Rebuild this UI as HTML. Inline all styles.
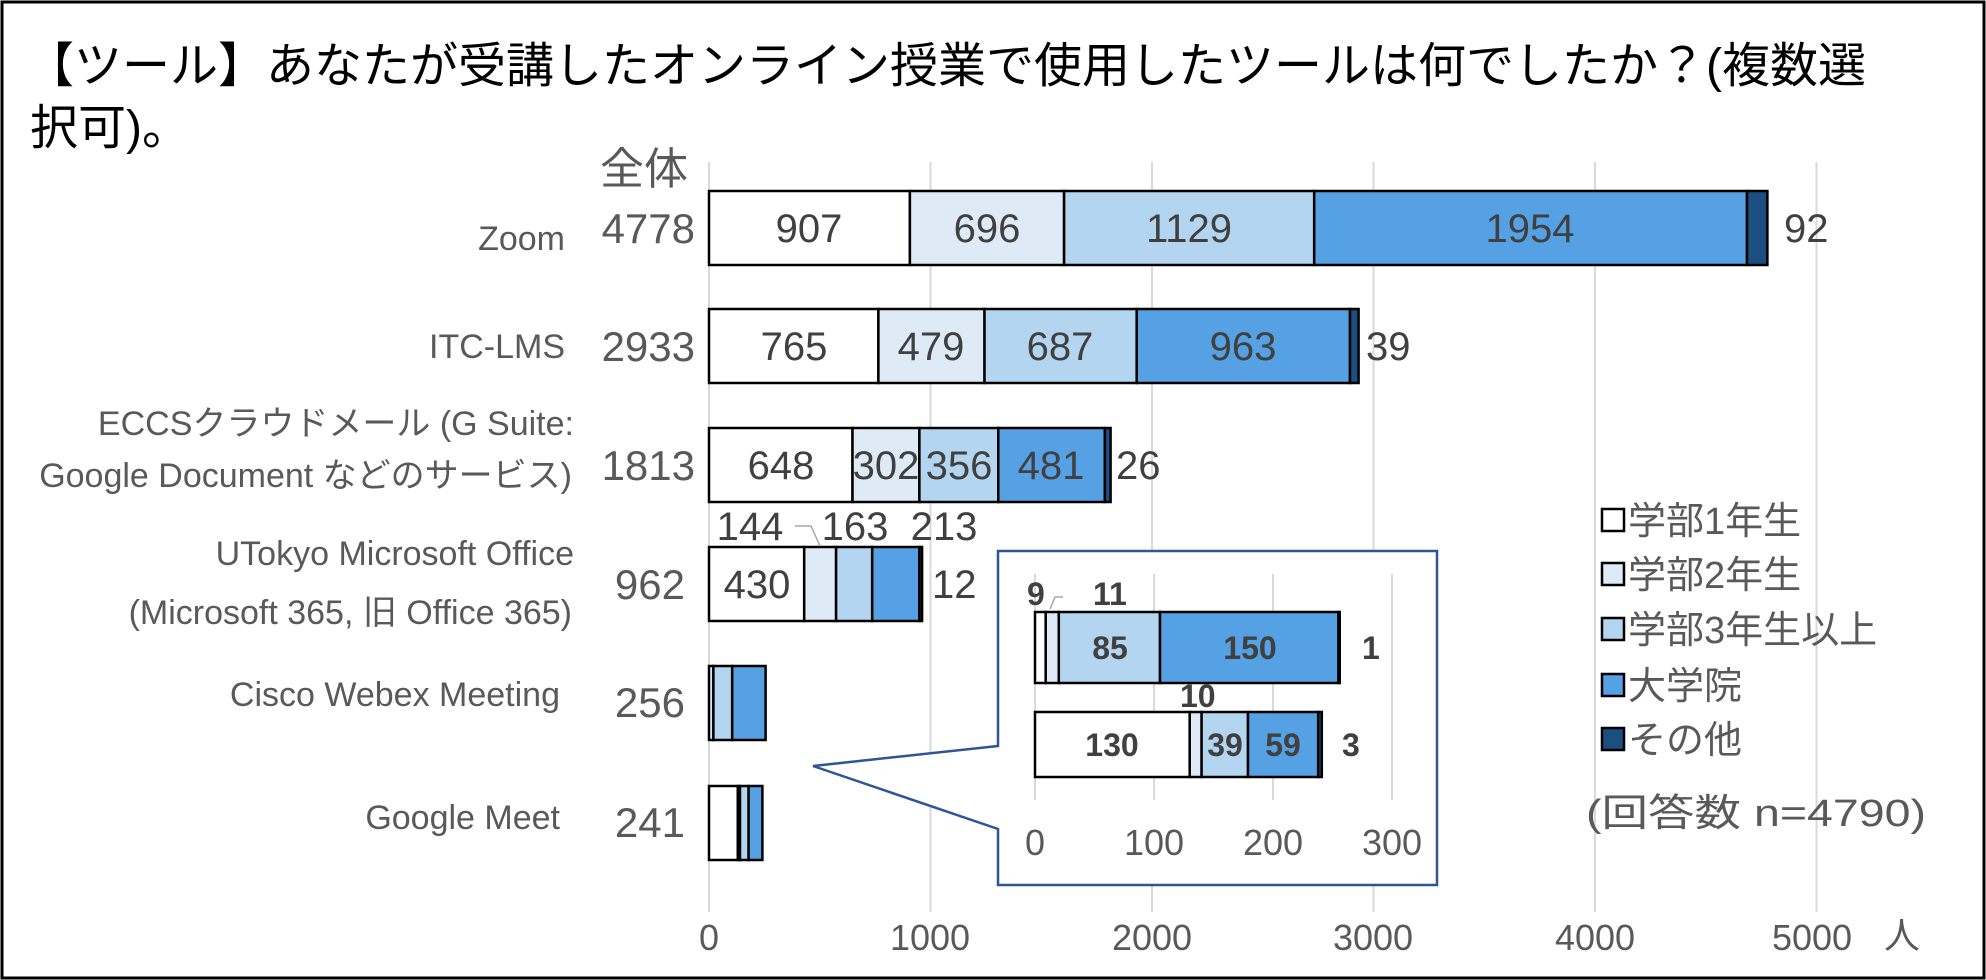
<!DOCTYPE html>
<html><head><meta charset="utf-8"><style>
html,body{margin:0;padding:0;background:#fff;}
svg{display:block;font-family:"Liberation Sans","Noto Sans CJK JP",sans-serif;}
.c{fill:#595959;font-size:34px;text-anchor:end;}
.t{fill:#595959;font-size:42px;text-anchor:end;}
.v{fill:#404040;font-size:40px;text-anchor:middle;}
.o{fill:#404040;font-size:40px;}
.iv{fill:#404040;font-size:32px;font-weight:bold;text-anchor:middle;}
.io{fill:#404040;font-size:32px;font-weight:bold;}
.ax{fill:#595959;font-size:36px;text-anchor:middle;}
.lg{fill:#595959;font-size:38px;}
</style></head><body>
<svg width="1986" height="980" viewBox="0 0 1986 980" xmlns="http://www.w3.org/2000/svg">
<rect x="2" y="2" width="1982" height="976" fill="#fff" stroke="#000" stroke-width="3"/>
<text x="26" y="82" font-size="48" fill="#000">【ツール】あなたが受講したオンライン授業で使用したツールは何でしたか？(複数選</text>
<text x="30" y="144" font-size="48" fill="#000">択可)。</text>
<text x="688" y="184" font-size="44" fill="#595959" text-anchor="end">全体</text>
<g stroke="#d9d9d9" stroke-width="2">
<line x1="709" y1="162" x2="709" y2="912"/><line x1="930.5" y1="162" x2="930.5" y2="912"/>
<line x1="1152" y1="162" x2="1152" y2="912"/><line x1="1373.5" y1="162" x2="1373.5" y2="912"/>
<line x1="1595" y1="162" x2="1595" y2="912"/><line x1="1816.5" y1="162" x2="1816.5" y2="912"/>
</g>
<g stroke="#000" stroke-width="2.5">
<rect x="709" y="191" width="200.9" height="74" fill="#fff"/>
<rect x="909.9" y="191" width="154.2" height="74" fill="#deebf7"/>
<rect x="1064.1" y="191" width="250.1" height="74" fill="#b4d5f0"/>
<rect x="1314.2" y="191" width="432.8" height="74" fill="#55a1e3"/>
<rect x="1747" y="191" width="20.4" height="74" fill="#1b4f82"/>
<rect x="709" y="309" width="169.4" height="74" fill="#fff"/>
<rect x="878.4" y="309" width="106.1" height="74" fill="#deebf7"/>
<rect x="984.5" y="309" width="152.2" height="74" fill="#b4d5f0"/>
<rect x="1136.7" y="309" width="213.3" height="74" fill="#55a1e3"/>
<rect x="1350" y="309" width="8.6" height="74" fill="#1b4f82"/>
<rect x="709" y="428" width="143.5" height="74" fill="#fff"/>
<rect x="852.5" y="428" width="66.9" height="74" fill="#deebf7"/>
<rect x="919.4" y="428" width="78.9" height="74" fill="#b4d5f0"/>
<rect x="998.3" y="428" width="106.5" height="74" fill="#55a1e3"/>
<rect x="1104.8" y="428" width="5.8" height="74" fill="#1b4f82"/>
<rect x="709" y="547" width="95.2" height="74" fill="#fff"/>
<rect x="804.2" y="547" width="31.9" height="74" fill="#deebf7"/>
<rect x="836.1" y="547" width="36.1" height="74" fill="#b4d5f0"/>
<rect x="872.2" y="547" width="47.2" height="74" fill="#55a1e3"/>
<rect x="919.4" y="547" width="2.7" height="74" fill="#1b4f82"/>
<rect x="709" y="666" width="4.4" height="74" fill="#deebf7"/>
<rect x="713.4" y="666" width="18.8" height="74" fill="#b4d5f0"/>
<rect x="732.2" y="666" width="33.4" height="74" fill="#55a1e3"/>
<rect x="709" y="786" width="28.8" height="74" fill="#fff"/>
<rect x="737.8" y="786" width="2.2" height="74" fill="#deebf7"/>
<rect x="740" y="786" width="8.6" height="74" fill="#b4d5f0"/>
<rect x="748.6" y="786" width="13.8" height="74" fill="#55a1e3"/>
</g>
<text class="c" x="565" y="250">Zoom</text>
<text class="c" x="565" y="358">ITC-LMS</text>
<text class="c" x="574" y="435">ECCSクラウドメール (G Suite:</text>
<text class="c" x="572" y="487">Google Document などのサービス)</text>
<text class="c" x="574" y="565">UTokyo Microsoft Office</text>
<text class="c" x="572" y="624">(Microsoft 365, 旧 Office 365)</text>
<text class="c" x="560" y="706">Cisco Webex Meeting</text>
<text class="c" x="560" y="829">Google Meet</text>
<text class="t" x="695" y="243">4778</text>
<text class="t" x="695" y="361">2933</text>
<text class="t" x="695" y="480">1813</text>
<text class="t" x="685" y="599">962</text>
<text class="t" x="685" y="717">256</text>
<text class="t" x="685" y="837">241</text>
<text class="v" x="809" y="242">907</text><text class="v" x="987" y="242">696</text>
<text class="v" x="1189" y="242">1129</text><text class="v" x="1530" y="242">1954</text>
<text class="o" x="1784" y="242">92</text>
<text class="v" x="794" y="360">765</text><text class="v" x="931" y="360">479</text>
<text class="v" x="1060" y="360">687</text><text class="v" x="1243" y="360">963</text>
<text class="o" x="1366" y="360">39</text>
<text class="v" x="781" y="479">648</text><text class="v" x="886" y="479" font-size="36">302</text>
<text class="v" x="959" y="479" font-size="36">356</text><text class="v" x="1051" y="479">481</text>
<text class="o" x="1116" y="479">26</text>
<text class="v" x="757" y="598">430</text>
<text class="v" x="750" y="540">144</text><text class="v" x="855" y="540">163</text><text class="v" x="944" y="540">213</text>
<polyline points="795,526 811,526 820,546" fill="none" stroke="#a6a6a6" stroke-width="1.5"/>
<text class="o" x="932" y="598">12</text>
<text class="ax" x="709" y="950">0</text><text class="ax" x="930" y="950">1000</text>
<text class="ax" x="1152" y="950">2000</text><text class="ax" x="1373" y="950">3000</text>
<text class="ax" x="1595" y="950">4000</text><text class="ax" x="1812" y="950">5000</text>
<text x="1902" y="948" font-size="36" fill="#595959" text-anchor="middle">人</text>
<polygon points="998,551 1437,551 1437,885 998,885 998,829 813,766 998,746" fill="#fff" stroke="#2f5597" stroke-width="2.5"/>
<g stroke="#d9d9d9" stroke-width="2">
<line x1="1035" y1="574" x2="1035" y2="800"/><line x1="1154" y1="574" x2="1154" y2="800"/>
<line x1="1273" y1="574" x2="1273" y2="800"/><line x1="1392" y1="574" x2="1392" y2="800"/>
</g>
<g stroke="#000" stroke-width="2.5">
<rect x="1035" y="612" width="10.7" height="71" fill="#fff"/>
<rect x="1045.7" y="612" width="13.1" height="71" fill="#deebf7"/>
<rect x="1058.8" y="612" width="101.2" height="71" fill="#b4d5f0"/>
<rect x="1160" y="612" width="178.5" height="71" fill="#55a1e3"/>
<rect x="1338.5" y="612" width="1.2" height="71" fill="#1b4f82"/>
<rect x="1035" y="712" width="154.7" height="65" fill="#fff"/>
<rect x="1189.7" y="712" width="11.9" height="65" fill="#deebf7"/>
<rect x="1201.6" y="712" width="46.4" height="65" fill="#b4d5f0"/>
<rect x="1248" y="712" width="70.2" height="65" fill="#55a1e3"/>
<rect x="1318.2" y="712" width="3.6" height="65" fill="#1b4f82"/>
</g>
<text class="io" x="1027" y="605">9</text>
<polyline points="1050,609 1055,597 1063,597" fill="none" stroke="#a6a6a6" stroke-width="1.5"/>
<text class="io" x="1093" y="605">11</text>
<text class="iv" x="1110" y="659">85</text><text class="iv" x="1250" y="659">150</text>
<text class="io" x="1362" y="659">1</text>
<text class="io" x="1180" y="707">10</text>
<text class="iv" x="1112" y="756">130</text><text class="iv" x="1225" y="756" font-size="28">39</text><text class="iv" x="1283" y="756">59</text>
<text class="io" x="1342" y="756">3</text>
<text class="ax" x="1035" y="855" font-size="30">0</text><text class="ax" x="1154" y="855" font-size="30">100</text>
<text class="ax" x="1273" y="855" font-size="30">200</text><text class="ax" x="1392" y="855" font-size="30">300</text>
<g stroke="#000" stroke-width="2.5">
<rect x="1602" y="509" width="22" height="22" fill="#fff"/>
<rect x="1602" y="563" width="22" height="22" fill="#deebf7"/>
<rect x="1602" y="618" width="22" height="22" fill="#b4d5f0"/>
<rect x="1602" y="674" width="22" height="22" fill="#55a1e3"/>
<rect x="1602" y="728" width="22" height="22" fill="#1b4f82"/>
</g>
<text class="lg" x="1628" y="534">学部1年生</text>
<text class="lg" x="1628" y="588">学部2年生</text>
<text class="lg" x="1628" y="643">学部3年生以上</text>
<text class="lg" x="1628" y="699">大学院</text>
<text class="lg" x="1628" y="753">その他</text>
<text class="lg" x="1586" y="826" font-size="42" textLength="340" lengthAdjust="spacingAndGlyphs">(回答数 n=4790)</text>
</svg>
</body></html>
